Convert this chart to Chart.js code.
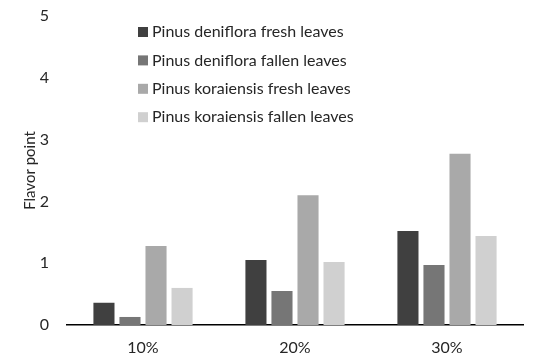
<!DOCTYPE html>
<html>
<head>
<meta charset="utf-8">
<script src="https://cdn.jsdelivr.net/npm/chart.js@4"></script>
<style>
  html, body { margin: 0; padding: 0; background: #fff; }
  #wrap { width: 537px; height: 364px; }
</style>
</head>
<body>
<div id="wrap"><canvas id="my-chart" width="537" height="364"></canvas></div>
<script>
const categories = ['10%', '20%', '30%'];
const seriesNames = [
  'Pinus deniflora fresh leaves',
  'Pinus deniflora fallen leaves',
  'Pinus koraiensis fresh leaves',
  'Pinus koraiensis fallen leaves'
];
const deniFresh = [0.36, 1.05, 1.52];
const deniFallen = [0.13, 0.55, 0.97];
const koraFresh = [1.28, 2.10, 2.77];
const koraFallen = [0.60, 1.02, 1.44];
const yTicks = [0, 1, 2, 3, 4, 5];

const colors = ['#404040', '#767676', '#a9a9a9', '#d0d0d0'];
const fontName = "Lato, 'Open Sans', sans-serif";

// legend drawn inside the plot area, top left
const innerLegend = {
  id: 'innerLegend',
  afterDraw(chart) {
    const ctx = chart.ctx;
    const area = chart.chartArea;
    ctx.save();
    ctx.font = '16px ' + fontName;
    ctx.textBaseline = 'middle';
    chart.data.datasets.forEach((ds, i) => {
      const x = area.left + 71;
      const y = area.top + 16 + i * 28.4;
      ctx.fillStyle = ds.backgroundColor;
      ctx.fillRect(x, y - 5, 10, 10);
      ctx.fillStyle = '#262626';
      ctx.fillText(ds.label, x + 14, y);
    });
    ctx.restore();
  }
};

const ctx = document.getElementById('my-chart').getContext('2d');
new Chart(ctx, {
  type: 'bar',
  data: {
    labels: categories,
    datasets: [deniFresh, deniFallen, koraFresh, koraFallen].map((vals, i) => ({
      label: seriesNames[i],
      data: vals,
      backgroundColor: colors[i],
      borderWidth: 0,
      categoryPercentage: 0.685,
      barPercentage: 0.81
    }))
  },
  options: {
    responsive: false,
    animation: false,
    layout: { padding: { top: 16, right: 14, left: 21, bottom: 0 } },
    plugins: {
      legend: { display: false },
      tooltip: { enabled: false }
    },
    scales: {
      x: {
        grid: { display: false, drawTicks: false },
        border: { display: true, color: '#000', width: 1.5 },
        ticks: { color: '#262626', font: { family: fontName, size: 16 }, padding: 13 },
        afterFit(scale) { scale.height = 39; }
      },
      y: {
        min: 0,
        max: 5,
        afterBuildTicks(scale) { scale.ticks = yTicks.map(v => ({ value: v })); },
        grid: { display: false, drawTicks: false },
        border: { display: false },
        ticks: { color: '#262626', font: { family: fontName, size: 16 }, padding: 18 },
        title: {
          display: true,
          text: 'Flavor point',
          color: '#262626',
          font: { family: fontName, size: 15 },
          padding: 0
        },
        afterFit(scale) {
          scale.width = 46;
          scale.paddingTop = 0;
          scale.paddingBottom = 0;
        }
      }
    }
  },
  plugins: [innerLegend]
});
</script>
</body>
</html>
